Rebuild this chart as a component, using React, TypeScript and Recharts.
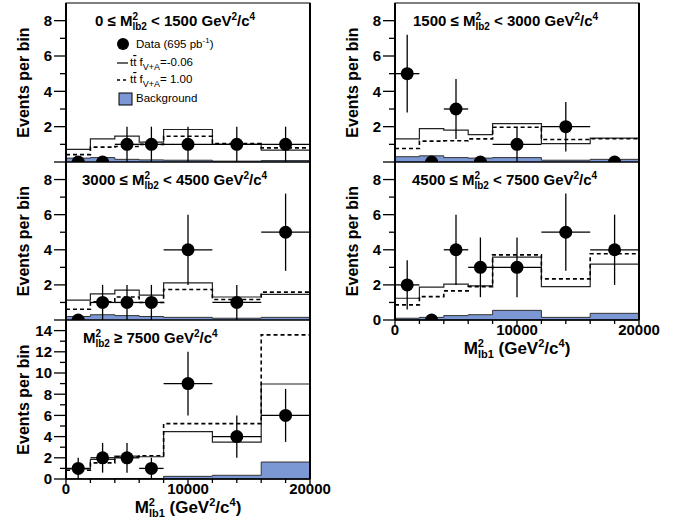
import React from "react";
import { ComposedChart, Line, Area, Scatter, ErrorBar, XAxis, YAxis } from "recharts";

// bins in M^2_lb1 (GeV^2/c^4)
const binEdges = [0, 2000, 4000, 6000, 8000, 12000, 16000, 20000];
const binCenters = [1000, 3000, 5000, 7000, 10000, 14000, 18000];
const xTicks = [0, 2000, 4000, 6000, 8000, 10000, 12000, 14000, 16000, 18000, 20000];
const xLabelTicks = [0, 10000, 20000];
const yTicks9 = [0, 1, 2, 3, 4, 5, 6, 7, 8];
const yTicks15 = [0, 1, 2, 3, 4, 5, 6, 7, 8, 9, 10, 11, 12, 13, 14];

// 0 <= M2lb2 < 1500
const p1Data = [0, 0, 1, 1, 1, 1, 1];
const p1Err = [0, 0, 1, 1, 1, 1, 1];
const p1Solid = [0.71, 1.31, 1.46, 1.12, 1.84, 1.0, 0.67];
const p1Dashed = [0.42, 0.84, 0.88, 1.0, 1.46, 1.04, 0.8];
const p1Bkg = [0.22, 0.25, 0.15, 0.12, 0.1, 0.05, 0.08];

// 1500 <= M2lb2 < 3000
const p2Data = [5, 0, 3, 0, 1, 2, 0];
const p2Err = [2.2, 0, 1.7, 0, 1, 1.4, 0];
const p2Solid = [1.31, 1.89, 1.8, 1.55, 2.17, 1.04, 1.35];
const p2Dashed = [0.76, 1.18, 1.2, 1.31, 1.97, 1.27, 1.32];
const p2Bkg = [0.3, 0.35, 0.25, 0.22, 0.25, 0.1, 0.15];

// 3000 <= M2lb2 < 4500
const p3Data = [0, 1, 1, 1, 4, 1, 5];
const p3Err = [0, 1, 1, 1, 2, 1, 2.2];
const p3Solid = [1.13, 1.49, 1.7, 1.42, 2.11, 1.31, 1.46];
const p3Dashed = [0.61, 1.04, 1.31, 1.0, 1.74, 1.17, 1.59];
const p3Bkg = [0.2, 0.3, 0.25, 0.2, 0.15, 0.1, 0.15];

// 4500 <= M2lb2 < 7500
const p4Data = [2, 0, 4, 3, 3, 5, 4];
const p4Err = [1.4, 0, 2, 1.7, 1.7, 2.2, 2];
const p4Solid = [1.24, 1.87, 2.04, 1.94, 3.58, 1.9, 3.18];
const p4Dashed = [0.86, 1.33, 1.66, 1.9, 3.71, 2.34, 3.77];
const p4Bkg = [0.1, 0.15, 0.25, 0.3, 0.55, 0.15, 0.38];

// M2lb2 >= 7500
const p5Data = [1, 2, 2, 1, 9, 4, 6];
const p5Err = [1, 1.4, 1.4, 1, 3, 2, 2.5];
const p5Solid = [0.95, 1.84, 2.15, 2.1, 4.46, 3.48, 8.96];
const p5Dashed = [0.82, 1.52, 2.1, 2.2, 5.22, 5.22, 13.6];
const p5Bkg = [0, 0.02, 0.05, 0.05, 0.25, 0.35, 1.6];

const FONT = "'Liberation Sans', Arial, Helvetica, sans-serif";
const BKG_FILL = "#7b98d4";
const ML = 66;
const MT = 10;
const MR = 32;
const XH = 44;

function stepRows(solid: number[], dashed: number[], bkg: number[]) {
  return binEdges.map((x, i) => {
    const j = Math.min(i, solid.length - 1);
    return { x, solid: solid[j], dashed: dashed[j], bkg: bkg[j] };
  });
}

function pointRows(data: number[], err: number[]) {
  return binCenters.map((x, i) => ({
    x,
    y: data[i],
    ey: err[i],
    ex: data[i] > 0 ? (binEdges[i + 1] - binEdges[i]) / 2 : 0,
  }));
}

function Title({ x, y, pre, post }: { x: number; y: number; pre: string; post: string }) {
  return (
    <text x={x} y={y} fontSize={15} fontWeight="bold" fill="#000" style={{ whiteSpace: "pre" }}>
      {pre}M
      <tspan dy={-6} fontSize={10}>2</tspan>
      <tspan dx={-5.6} dy={10} fontSize={10}>lb2</tspan>
      <tspan dy={-4}>{post}</tspan>
      <tspan dy={-6} fontSize={10}>2</tspan>
      <tspan dy={6}>/c</tspan>
      <tspan dy={-6} fontSize={10}>4</tspan>
    </text>
  );
}

function XTitle({ x, y }: { x: number; y: number }) {
  return (
    <text x={x} y={y} fontSize={17} fontWeight="bold" fill="#000" textAnchor="middle" style={{ whiteSpace: "pre" }}>
      M
      <tspan dy={-7} fontSize={11}>2</tspan>
      <tspan dx={-6.1} dy={11} fontSize={11}>lb1</tspan>
      <tspan dy={-4}>{" (GeV"}</tspan>
      <tspan dy={-7} fontSize={11}>2</tspan>
      <tspan dy={7}>/c</tspan>
      <tspan dy={-7} fontSize={11}>4</tspan>
      <tspan dy={7}>)</tspan>
    </text>
  );
}

function LegendBox() {
  // offsets relative to the plot corner
  const ox = ML;
  const oy = MT;
  return (
    <g fontSize={11.5} fill="#000" style={{ whiteSpace: "pre" }}>
      <circle cx={ox + 57} cy={oy + 41} r={6} fill="#000" />
      <text x={ox + 70} y={oy + 45}>
        Data (695 pb<tspan dy={-5} fontSize={8}>-1</tspan>
        <tspan dy={5}>)</tspan>
      </text>
      <line x1={ox + 51} x2={ox + 62} y1={oy + 60} y2={oy + 60} stroke="#000" strokeWidth={1.2} />
      <text x={ox + 64} y={oy + 63}>
        t<tspan textDecoration="overline">t</tspan> f
        <tspan dy={4} fontSize={9}>V+A</tspan>
        <tspan dy={-4}>=-0.06</tspan>
      </text>
      <line x1={ox + 51} x2={ox + 62} y1={oy + 77} y2={oy + 77} stroke="#000" strokeWidth={1.5} strokeDasharray="3 3" />
      <text x={ox + 64} y={oy + 80}>
        t<tspan textDecoration="overline">t</tspan> f
        <tspan dy={4} fontSize={9}>V+A</tspan>
        <tspan dy={-4}>= 1.00</tspan>
      </text>
      <rect x={ox + 53} y={oy + 90} width={13} height={12} fill={BKG_FILL} stroke="#000" strokeWidth={1} />
      <text x={ox + 70} y={oy + 99}>Background</text>
    </g>
  );
}

type PanelProps = {
  plotLeft: number;
  plotTop: number;
  plotW: number;
  plotH: number;
  yMax: number;
  yTicks: number[];
  showZero: boolean;
  showX: boolean;
  pre: string;
  post: string;
  titleDx: number;
  steps: { x: number; solid: number; dashed: number; bkg: number }[];
  points: { x: number; y: number; ey: number; ex: number }[];
  legend?: boolean;
};

function Panel(props: PanelProps) {
  const { plotLeft, plotTop, plotW, plotH, yMax, yTicks, showZero, showX, pre, post, titleDx, steps, points, legend } = props;
  const W = ML + plotW + MR;
  const H = MT + plotH + XH;
  const bottom = MT + plotH;

  const YTick = (p: any) => {
    const v = p.payload.value;
    const y = p.y;
    const major = v % 2 === 0;
    return (
      <g>
        <line x1={ML - (major ? 12 : 6)} x2={ML} y1={y} y2={y} stroke="#000" strokeWidth={1.3} />
        {major && (v !== 0 || showZero) && (
          <text x={ML - 14} y={y} dy="0.36em" textAnchor="end" fontSize={15} fontWeight="bold" fill="#000">
            {v}
          </text>
        )}
      </g>
    );
  };

  const XTick = (p: any) => {
    if (!showX) return <g />;
    const v = p.payload.value;
    const x = p.x;
    const major = xLabelTicks.includes(v);
    return (
      <g>
        <line x1={x} x2={x} y1={bottom} y2={bottom + (major ? 6 : 4)} stroke="#000" strokeWidth={1.3} />
        {major && (
          <text x={x} y={bottom + 15} textAnchor="middle" fontSize={15} fontWeight="bold" fill="#000">
            {v}
          </text>
        )}
      </g>
    );
  };

  return (
    <div style={{ position: "absolute", left: plotLeft - ML, top: plotTop - MT, width: W, height: H }}>
      <ComposedChart width={W} height={H} data={steps} margin={{ top: MT, right: MR, left: 0, bottom: 0 }}>
        <XAxis
          type="number"
          dataKey="x"
          domain={[0, 20000]}
          ticks={xTicks}
          interval={0}
          tick={XTick}
          tickLine={false}
          axisLine={false}
          height={XH}
          allowDataOverflow
        />
        <YAxis
          type="number"
          domain={[0, yMax]}
          ticks={yTicks}
          interval={0}
          tick={YTick}
          tickLine={false}
          axisLine={false}
          width={ML}
          allowDataOverflow
        />
        <Area
          type="stepAfter"
          dataKey="bkg"
          fill={BKG_FILL}
          fillOpacity={1}
          stroke="#333"
          strokeWidth={1}
          isAnimationActive={false}
        />
        <Line type="stepAfter" dataKey="solid" stroke="#222" strokeWidth={1.2} dot={false} isAnimationActive={false} />
        <Line
          type="stepAfter"
          dataKey="dashed"
          stroke="#000"
          strokeWidth={1.6}
          strokeDasharray="4 3"
          dot={false}
          isAnimationActive={false}
        />
        <Scatter
          data={points}
          dataKey="y"
          isAnimationActive={false}
          shape={(s: any) => <circle cx={s.cx} cy={s.cy} r={6.5} fill="#000" />}
        >
          <ErrorBar dataKey="ey" direction="y" width={0} stroke="#000" strokeWidth={1.3} />
          <ErrorBar dataKey="ex" direction="x" width={0} stroke="#000" strokeWidth={1.3} />
        </Scatter>
      </ComposedChart>
      <svg
        width={W}
        height={H}
        style={{ position: "absolute", left: 0, top: 0, pointerEvents: "none", fontFamily: FONT }}
      >
        <rect x={ML} y={MT} width={plotW} height={plotH} fill="none" stroke="#000" strokeWidth={1} />
        <line x1={ML} x2={ML} y1={MT} y2={bottom} stroke="#000" strokeWidth={2} />
        <line x1={ML + plotW} x2={ML + plotW} y1={MT} y2={bottom} stroke="#000" strokeWidth={2} />
        {showX && <line x1={ML} x2={ML + plotW} y1={bottom} y2={bottom} stroke="#000" strokeWidth={1.6} />}
        <text
          x={ML - 43}
          y={MT + plotH / 2}
          transform={`rotate(-90 ${ML - 43} ${MT + plotH / 2})`}
          textAnchor="middle"
          dy="0.36em"
          fontSize={16}
          fontWeight="bold"
          fill="#000"
        >
          Events per bin
        </text>
        <Title x={ML + titleDx} y={MT + 23} pre={pre} post={post} />
        {showX && <XTitle x={ML + plotW / 2} y={bottom + 34} />}
        {legend && <LegendBox />}
      </svg>
    </div>
  );
}

export default function App() {
  return (
    <div
      style={{
        position: "absolute",
        left: 0,
        top: 0,
        width: 681,
        height: 520,
        background: "#fff",
        fontFamily: FONT,
        overflow: "hidden",
      }}
    >
      <Panel
        plotLeft={66}
        plotTop={3}
        plotW={244}
        plotH={159}
        yMax={9}
        yTicks={yTicks9}
        showZero={false}
        showX={false}
        pre="0 ≤ "
        post=" < 1500 GeV"
        titleDx={29}
        steps={stepRows(p1Solid, p1Dashed, p1Bkg)}
        points={pointRows(p1Data, p1Err)}
        legend
      />
      <Panel
        plotLeft={395}
        plotTop={3}
        plotW={244}
        plotH={159}
        yMax={9}
        yTicks={yTicks9}
        showZero={false}
        showX={false}
        pre="1500 ≤ "
        post=" < 3000 GeV"
        titleDx={18}
        steps={stepRows(p2Solid, p2Dashed, p2Bkg)}
        points={pointRows(p2Data, p2Err)}
      />
      <Panel
        plotLeft={66}
        plotTop={162}
        plotW={244}
        plotH={158}
        yMax={9}
        yTicks={yTicks9}
        showZero={false}
        showX={false}
        pre="3000 ≤ "
        post=" < 4500 GeV"
        titleDx={16}
        steps={stepRows(p3Solid, p3Dashed, p3Bkg)}
        points={pointRows(p3Data, p3Err)}
      />
      <Panel
        plotLeft={395}
        plotTop={162}
        plotW={244}
        plotH={158}
        yMax={9}
        yTicks={yTicks9}
        showZero={true}
        showX={true}
        pre="4500 ≤ "
        post=" < 7500 GeV"
        titleDx={17}
        steps={stepRows(p4Solid, p4Dashed, p4Bkg)}
        points={pointRows(p4Data, p4Err)}
      />
      <Panel
        plotLeft={66}
        plotTop={320}
        plotW={244}
        plotH={159}
        yMax={15}
        yTicks={yTicks15}
        showZero={true}
        showX={true}
        pre=""
        post=" ≥ 7500 GeV"
        titleDx={17}
        steps={stepRows(p5Solid, p5Dashed, p5Bkg)}
        points={pointRows(p5Data, p5Err)}
      />
    </div>
  );
}
